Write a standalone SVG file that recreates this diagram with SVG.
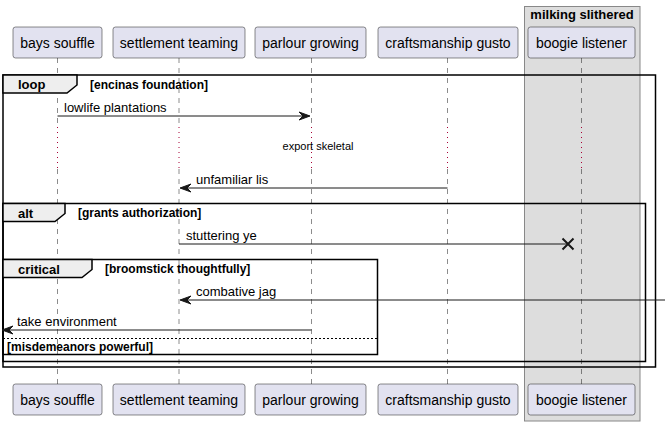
<svg xmlns="http://www.w3.org/2000/svg" width="670" height="426" viewBox="0 0 670 426">
<style>
text{font-family:"Liberation Sans",Arial,sans-serif;fill:#000}
.p{fill:#E2E2F0;stroke:#181818;stroke-width:0.5}
.pt{font-size:14px}
.ll{stroke:#181818;stroke-width:0.5;stroke-dasharray:5,5}
.dl{stroke:#A80036;stroke-width:1;stroke-dasharray:1,4}
.m{stroke:#181818;stroke-width:1}
.ah{fill:#181818;stroke:#181818;stroke-width:1}
.mt{font-size:13px}
.fr{fill:none;stroke:#000;stroke-width:1.5}
.tab{fill:#EEEEEE;stroke:#000;stroke-width:1.5}
.fl{font-size:13px;font-weight:bold}
.g{font-size:12px;font-weight:bold}
</style>
<g id="box-milking-slithered">
<rect x="524.5" y="6.5" width="115.5" height="414.5" fill="#DDDDDD" stroke="#888" stroke-width="1"/>
<text x="582" y="19" text-anchor="middle" class="fl">milking slithered</text>
</g>
<g id="lifelines">
<line class="ll" x1="57.5" y1="58" x2="57.5" y2="126"/><line class="dl" x1="57.5" y1="127" x2="57.5" y2="168"/><line class="ll" x1="57.5" y1="169" x2="57.5" y2="384"/>
<line class="ll" x1="179" y1="58" x2="179" y2="126"/><line class="dl" x1="179" y1="127" x2="179" y2="168"/><line class="ll" x1="179" y1="169" x2="179" y2="384"/>
<line class="ll" x1="311.5" y1="58" x2="311.5" y2="126"/><line class="dl" x1="311.5" y1="127" x2="311.5" y2="168"/><line class="ll" x1="311.5" y1="169" x2="311.5" y2="384"/>
<line class="ll" x1="447.5" y1="58" x2="447.5" y2="126"/><line class="dl" x1="447.5" y1="127" x2="447.5" y2="168"/><line class="ll" x1="447.5" y1="169" x2="447.5" y2="384"/>
<line class="ll" x1="581.5" y1="58" x2="581.5" y2="126"/><line class="dl" x1="581.5" y1="127" x2="581.5" y2="168"/><line class="ll" x1="581.5" y1="169" x2="581.5" y2="384"/>
</g>
<g id="bays-souffle">
<rect class="p" x="13" y="27" width="89" height="31" rx="2.5"/><text class="pt" x="57.5" y="47.5" text-anchor="middle">bays souffle</text>
<rect class="p" x="13" y="384" width="89" height="31" rx="2.5"/><text class="pt" x="57.5" y="404.5" text-anchor="middle">bays souffle</text>
</g>
<g id="settlement-teaming">
<rect class="p" x="113" y="27" width="132" height="31" rx="2.5"/><text class="pt" x="179" y="47.5" text-anchor="middle">settlement teaming</text>
<rect class="p" x="113" y="384" width="132" height="31" rx="2.5"/><text class="pt" x="179" y="404.5" text-anchor="middle">settlement teaming</text>
</g>
<g id="parlour-growing">
<rect class="p" x="255" y="27" width="111" height="31" rx="2.5"/><text class="pt" x="310.5" y="47.5" text-anchor="middle">parlour growing</text>
<rect class="p" x="255" y="384" width="111" height="31" rx="2.5"/><text class="pt" x="310.5" y="404.5" text-anchor="middle">parlour growing</text>
</g>
<g id="craftsmanship-gusto">
<rect class="p" x="378" y="27" width="140" height="31" rx="2.5"/><text class="pt" x="448" y="47.5" text-anchor="middle">craftsmanship gusto</text>
<rect class="p" x="378" y="384" width="140" height="31" rx="2.5"/><text class="pt" x="448" y="404.5" text-anchor="middle">craftsmanship gusto</text>
</g>
<g id="boogie-listener">
<rect class="p" x="528" y="27" width="107" height="31" rx="2.5"/><text class="pt" x="581.5" y="47.5" text-anchor="middle">boogie listener</text>
<rect class="p" x="528" y="384" width="107" height="31" rx="2.5"/><text class="pt" x="581.5" y="404.5" text-anchor="middle">boogie listener</text>
</g>
<g id="frame-loop">
<rect class="fr" x="3" y="75" width="652.5" height="292"/>
<path class="tab" d="M3,75 H77 V85 L67,93 H3 Z"/>
<text class="fl" x="18" y="89">loop</text>
<text class="g" x="90" y="88.5">[encinas foundation]</text>
</g>
<g id="frame-alt">
<rect class="fr" x="3" y="203.5" width="642.5" height="158"/>
<path class="tab" d="M3,203.5 H65 V213.5 L55,221.5 H3 Z"/>
<text class="fl" x="18" y="217.5">alt</text>
<text class="g" x="78" y="216.5">[grants authorization]</text>
</g>
<g id="frame-critical">
<rect class="fr" x="3" y="259.5" width="374.5" height="95"/>
<path class="tab" d="M3,259.5 H92 V269.5 L82,277.5 H3 Z"/>
<text class="fl" x="18" y="273.5">critical</text>
<text class="g" x="105" y="272.5">[broomstick thoughtfully]</text>
<line x1="3" y1="338.5" x2="377.5" y2="338.5" stroke="#000" stroke-width="1" stroke-dasharray="2,2"/>
<text class="g" x="7" y="351">[misdemeanors powerful]</text>
</g>
<g id="connectors">
<line class="m" x1="57.5" y1="116" x2="309" y2="116"/>
<polygon class="ah" points="299,112 310,116 299,120 303,116"/>
<text class="mt" x="64" y="112">lowlife plantations</text>
<text x="318" y="150" font-size="11px" text-anchor="middle">export skeletal</text>
<line class="m" x1="447.5" y1="188" x2="181" y2="188"/>
<polygon class="ah" points="191,184 180,188 191,192 187,188"/>
<text class="mt" x="196" y="184">unfamiliar lis</text>
<line class="m" x1="179" y1="244" x2="568" y2="244"/>
<path d="M562.5,238.5 L573.5,249.5 M573.5,238.5 L562.5,249.5" stroke="#181818" stroke-width="2"/>
<text class="mt" x="186" y="240">stuttering ye</text>
<line class="m" x1="665" y1="300" x2="181" y2="300"/>
<polygon class="ah" points="191,296 180,300 191,304 187,300"/>
<text class="mt" x="196" y="295.5">combative jag</text>
<line class="m" x1="311.5" y1="330" x2="3" y2="330"/>
<polygon class="ah" points="13,326 2,330 13,334 9,330"/>
<text class="mt" x="17" y="326">take environment</text>
</g>
</svg>
